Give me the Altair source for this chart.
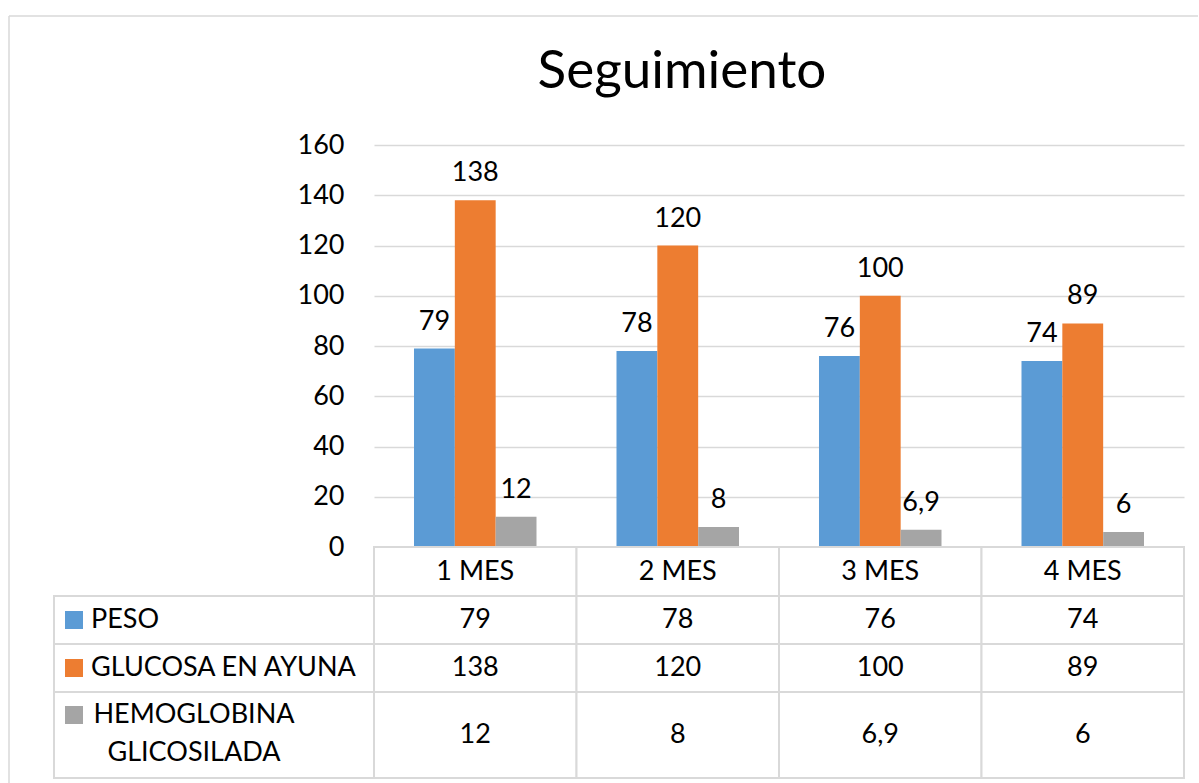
import altair as alt
import pandas as pd

# ---------------- data ----------------
meses = ["1 MES", "2 MES", "3 MES", "4 MES"]
series = ["PESO", "GLUCOSA EN AYUNA", "HEMOGLOBINA GLICOSILADA"]
series_labels = ["PESO", "GLUCOSA EN AYUNA", "HEMOGLOBINA\nGLICOSILADA"]
peso = [79, 78, 76, 74]
glucosa = [138, 120, 100, 89]
hemoglobina = [12, 8, 6.9, 6]
colores = ["#5B9BD5", "#ED7D31", "#A5A5A5"]
y_ticks = [0, 20, 40, 60, 80, 100, 120, 140, 160]
titulo = "Seguimiento"

# ---------------- style ----------------
FONT = "Lato"
GRID = "#D9D9D9"
FS = 27
W, H = 810, 402          # plot area
TH = 231                 # table height
LEFT_COL = 320           # width of the label column of the table


def fmt(v):
    return ("%g" % v).replace(".", ",")


rows = []
for s, vals in zip(series, [peso, glucosa, hemoglobina]):
    for m, v in zip(meses, vals):
        rows.append(dict(mes=m, serie=s, valor=v, etiqueta=fmt(v)))
df = pd.DataFrame(rows)

color_scale = alt.Scale(domain=series, range=colores)

# ---------------- bar chart ----------------
x_bar = alt.X("mes:N", sort=meses,
              scale=alt.Scale(paddingInner=0.395, paddingOuter=0.1975),
              axis=None)
xo = alt.XOffset("serie:N", sort=series,
                 scale=alt.Scale(paddingInner=0, paddingOuter=0))
y_bar = alt.Y("valor:Q", scale=alt.Scale(domain=[0, 160], nice=False),
              axis=alt.Axis(values=y_ticks, title=None, domain=False, ticks=False,
                            grid=True, gridColor=GRID, gridWidth=1.5,
                            labelFont=FONT, labelFontSize=FS, labelColor="black",
                            labelPadding=30))

bars = alt.Chart(df).mark_bar().encode(
    x=x_bar, xOffset=xo, y=y_bar,
    color=alt.Color("serie:N", scale=color_scale, legend=None),
)
bar_labels = alt.Chart(df).mark_text(
    font=FONT, fontSize=FS, baseline="alphabetic", dy=-19, color="black"
).encode(x=x_bar, xOffset=xo, y="valor:Q", text="etiqueta:N")

one = pd.DataFrame({"t": [titulo]})
title_mark = alt.Chart(one).mark_text(
    font=FONT, fontSize=53, align="center", baseline="alphabetic", color="black"
).encode(x=alt.value(308), y=alt.value(-57), text="t:N")

border_left = alt.Chart(one).mark_rule(color=GRID, strokeWidth=1.5).encode(
    x=alt.value(-365), y=alt.value(-129), y2=alt.value(638))
border_top = alt.Chart(one).mark_rule(color=GRID, strokeWidth=1.5).encode(
    x=alt.value(-365), x2=alt.value(824), y=alt.value(-129))

top = alt.layer(border_left, border_top, bars, bar_labels, title_mark).properties(
    width=W, height=H)

# ---------------- data table ----------------
row_bounds = {"header": (0, 49), series[0]: (49, 97), series[1]: (97, 145), series[2]: (145, 231)}

cells = []
for m in meses:
    t, b = row_bounds["header"]
    cells.append(dict(mes=m, top=t, bottom=b, mid=(t + b) / 2, texto=m))
for r in rows:
    t, b = row_bounds[r["serie"]]
    cells.append(dict(mes=r["mes"], top=t, bottom=b, mid=(t + b) / 2, texto=r["etiqueta"]))
cells = pd.DataFrame(cells)

left = []
for s, lab in zip(series, series_labels):
    t, b = row_bounds[s]
    mid = (t + b) / 2
    key_y = mid - 20 if "\n" in lab else mid
    left.append(dict(serie=s, etiqueta=lab, top=t, bottom=b, mid=mid, key_y=key_y))
left = pd.DataFrame(left)

x_tab = alt.X("mes:N", sort=meses, scale=alt.Scale(paddingInner=0, paddingOuter=0), axis=None)
y_scale = alt.Scale(domain=[0, TH], reverse=True, nice=False, zero=False)

cell_rects = alt.Chart(cells).mark_rect(fill="white", stroke=GRID, strokeWidth=2).encode(
    x=x_tab, y=alt.Y("top:Q", scale=y_scale, axis=None), y2="bottom:Q")
cell_text = alt.Chart(cells).mark_text(font=FONT, fontSize=FS, baseline="middle", color="black").encode(
    x=x_tab, y=alt.Y("mid:Q", scale=y_scale, axis=None), text="texto:N")

left_rects = alt.Chart(left).mark_rect(fill="white", stroke=GRID, strokeWidth=2).encode(
    x=alt.value(-LEFT_COL), x2=alt.value(0),
    y=alt.Y("top:Q", scale=y_scale, axis=None), y2="bottom:Q")
left_keys = alt.Chart(left).mark_square(size=324, opacity=1).encode(
    x=alt.value(-300), y=alt.Y("key_y:Q", scale=y_scale, axis=None),
    color=alt.Color("serie:N", scale=color_scale, legend=None))
left_text_single = alt.Chart(left).transform_filter(
    "indexof(datum.etiqueta, '\\n') < 0"
).mark_text(font=FONT, fontSize=FS, align="left", baseline="middle", color="black").encode(
    x=alt.value(-283), y=alt.Y("mid:Q", scale=y_scale, axis=None), text="etiqueta:N")
left_text_multi = alt.Chart(left).transform_filter(
    "indexof(datum.etiqueta, '\\n') >= 0"
).mark_text(font=FONT, fontSize=FS, align="center", baseline="middle", color="black",
            lineBreak="\n", lineHeight=38).encode(
    x=alt.value(-180), y=alt.Y("key_y:Q", scale=y_scale, axis=None), text="etiqueta:N")

table = alt.layer(cell_rects, cell_text, left_rects, left_keys,
                  left_text_single, left_text_multi).properties(width=W, height=TH)

chart = alt.vconcat(top, table, spacing=0, bounds="flush").resolve_scale(
    x="independent", y="independent", color="shared"
).properties(
    padding={"left": 8, "top": 15, "right": 0, "bottom": 0},
    background="white",
).configure_view(stroke=None)

chart.save("out.html", embed_options={"renderer": "svg", "actions": False})
